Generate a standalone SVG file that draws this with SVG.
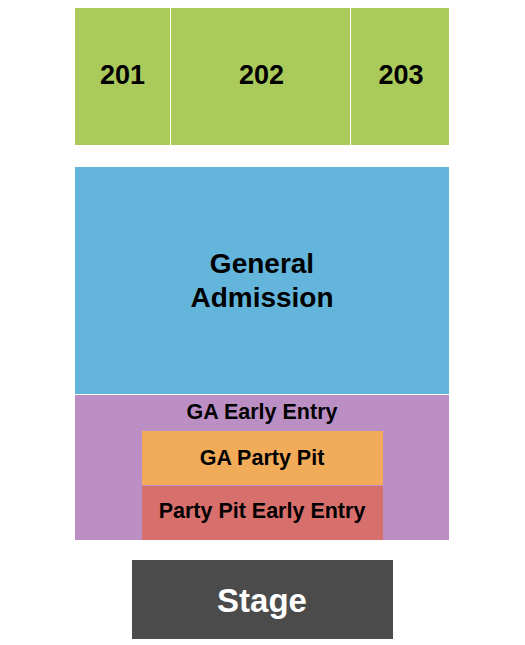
<svg xmlns="http://www.w3.org/2000/svg" width="525" height="645" viewBox="0 0 525 645">
<style>
text{font-family:"Liberation Sans",Arial,sans-serif;font-weight:bold;text-anchor:middle;fill:#000}
.sec{font-size:27px}
.gen{font-size:28px}
.mid{font-size:21.5px}
</style>
<rect width="525" height="645" fill="#fff"/>
<g id="s201"><rect x="75" y="8" width="95" height="137" fill="#aacb5c"/><text class="sec" x="122.5" y="84">201</text></g>
<g id="s202"><rect x="171" y="8" width="179" height="137" fill="#aacb5c"/><text class="sec" x="261.5" y="84">202</text></g>
<g id="s203"><rect x="351" y="8" width="98" height="137" fill="#aacb5c"/><text class="sec" x="401" y="84">203</text></g>
<g id="ga"><rect x="75" y="167" width="374" height="227" fill="#63b5dc"/><text class="gen" x="262" y="273">General</text><text class="gen" x="262" y="307">Admission</text></g>
<g id="gaearly"><rect x="75" y="395" width="374" height="145" fill="#bb8fc4"/><text class="mid" x="262" y="419">GA Early Entry</text></g>
<g id="pit"><rect x="142" y="431" width="241" height="54" fill="#f2ab59"/><text class="mid" x="262" y="465">GA Party Pit</text></g>
<g id="pitearly"><rect x="142" y="486" width="241" height="54" fill="#d76f6c"/><text class="mid" x="262" y="518">Party Pit Early Entry</text></g>
<g id="stage"><rect x="132" y="560" width="261" height="79" fill="#4b4b4b"/><text x="262" y="612" style="font-size:33px;fill:#fff">Stage</text></g>
<g id="connectors"/>
</svg>
